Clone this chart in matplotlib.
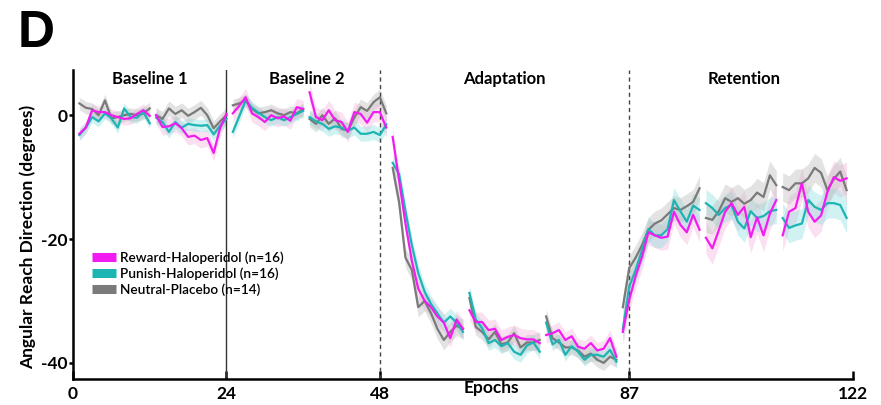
import numpy as np
import matplotlib
matplotlib.use("Agg")
import matplotlib.pyplot as plt
from matplotlib.lines import Line2D

plt.rcParams['font.family'] = ['Lato', 'DejaVu Sans']

# ---- data ----
seg_starts = [1, 13, 25, 37, 50, 62, 74, 86, 99, 111]

reward = [
    [-3.0, -2.0, 0.8, 0.5, 0.5, 0.0, -0.3, -0.6, -0.5, 0.2, 0.8, -0.1],
    [0.0, -1.9, -1.8, -1.3, -2.1, -3.5, -3.3, -4.0, -3.7, -6.1, -2.1, 0.2],
    [0.3, 1.5, 2.9, 0.3, -0.3, -1.1, 0.0, -0.5, -0.2, -0.9, 1.3, 1.0],
    [3.7, -0.3, -0.8, 0.8, -0.8, -1.1, -2.7, 0.5, 0.2, -1.2, 0.5, 0.5, -2.0],
    [-3.5, -10.5, -17.5, -23.5, -28.0, -30.0, -31.0, -32.5, -33.5, -36.0, -33.0, -34.5],
    [-31.5, -33.4, -33.4, -34.7, -34.5, -36.3, -35.8, -35.5, -36.0, -36.2, -36.2, -36.8],
    [-35.5, -35.2, -34.7, -36.3, -35.7, -37.4, -37.7, -36.8, -38.0, -37.7, -36.0, -39.0],
    [-35.0, -29.8, -26.0, -22.9, -18.9, -19.4, -19.8, -19.6, -15.6, -17.7, -18.9, -16.1, -18.5],
    [-19.8, -21.5, -18.6, -15.6, -14.2, -16.1, -14.8, -19.7, -16.5, -19.4, -15.9, -13.7],
    [-19.4, -15.6, -15.0, -11.0, -15.6, -17.2, -16.2, -12.4, -10.0, -10.6, -10.2],
]
punish = [
    [-3.2, -2.0, -0.3, -1.0, 0.3, -0.5, -2.0, 1.1, -0.3, -0.4, 0.5, -1.3],
    [-0.4, -1.1, -2.7, -1.1, -2.0, -1.4, -1.6, -1.7, -1.6, -3.1, -1.7, -0.6],
    [-2.7, -0.2, 2.4, 1.2, 0.4, -0.3, -0.8, -0.3, -0.8, -0.3, 0.2, 0.7],
    [-0.3, -1.0, -1.4, -2.2, -1.8, -2.0, -2.5, -2.0, -3.0, -3.0, -2.7, -3.2, -1.5],
    [-7.7, -9.5, -15.5, -21.0, -25.5, -28.5, -30.5, -32.0, -33.5, -32.5, -33.5, -35.0],
    [-28.7, -33.0, -34.4, -36.8, -36.3, -37.3, -36.8, -38.2, -38.7, -37.2, -36.7, -38.2],
    [-33.5, -37.0, -36.3, -38.7, -37.3, -38.2, -39.5, -38.7, -38.7, -39.0, -37.9, -39.8],
    [-34.5, -27.7, -25.0, -21.8, -18.4, -19.4, -19.4, -18.4, -13.7, -15.5, -17.2, -14.6, -15.3],
    [-14.2, -15.0, -16.1, -15.0, -14.5, -17.2, -18.3, -15.5, -16.6, -16.3, -15.5, -15.3],
    [-16.6, -18.2, -17.8, -17.5, -13.7, -14.8, -15.3, -14.2, -14.2, -14.5, -16.6],
]
neutral = [
    [1.9, 1.2, 1.0, 0.0, 2.4, -0.5, -0.3, 0.0, 0.2, 0.0, 0.3, 1.1],
    [0.0, -0.6, 1.1, 0.2, 0.8, -0.1, 0.5, 1.2, 0.0, -2.1, -1.0, 0.0],
    [1.6, 1.9, 2.4, 1.0, 0.3, 0.5, 0.8, 0.3, 0.0, 0.5, 0.3, 1.0],
    [-0.6, -1.4, 0.0, -1.4, -0.5, -2.2, -2.5, -0.4, 1.3, 0.7, 2.1, 2.9, 0.3],
    [-8.5, -14.0, -23.0, -25.0, -31.0, -30.0, -32.0, -34.5, -36.3, -35.0, -34.0, -34.5],
    [-29.5, -34.2, -35.0, -36.2, -35.0, -37.0, -36.7, -35.2, -37.5, -36.7, -36.7, -36.3],
    [-32.5, -36.0, -36.7, -37.5, -37.5, -38.0, -39.0, -38.5, -39.5, -40.0, -39.0, -39.5],
    [-31.0, -24.7, -23.0, -21.0, -18.5, -17.5, -17.0, -16.0, -15.0, -15.3, -14.7, -14.0, -11.8],
    [-16.6, -16.9, -15.5, -13.4, -14.0, -13.4, -14.3, -13.7, -12.5, -13.2, -9.7, -11.3],
    [-11.6, -12.1, -11.0, -11.0, -10.2, -8.5, -9.3, -12.1, -10.3, -9.1, -12.1],
]
# standard error per block (band half-width, degrees)
reward_sem = [1.0, 1.3, 1.4, 1.6, 1.5, 1.6, 1.3, 2.0, 2.6, 2.6]
punish_sem = [0.9, 1.0, 1.0, 1.2, 1.3, 1.2, 1.0, 2.0, 2.2, 2.4]
neutral_sem = [1.0, 1.2, 1.0, 1.3, 1.6, 1.3, 1.2, 2.0, 2.3, 2.3]

labels = ["Reward-Haloperidol (n=16)", "Punish-Haloperidol (n=16)", "Neutral-Placebo (n=14)"]
colors = ["#F21CF2", "#1DB4B4", "#7A7A7A"]
band_colors = ["#F4B6DC", "#8FE0E0", "#BDBDBD"]

phase_names = ["Baseline 1", "Baseline 2", "Adaptation", "Retention"]
phase_centers = [12, 36.5, 67.5, 105]
solid_lines = [24]
dashed_lines = [48, 87]
xticks = [0, 24, 48, 87, 122]
yticks = [0, -20, -40]

# ---- figure ----
fig = plt.figure(figsize=(8.81, 4.05), dpi=100)
ax = fig.add_axes([73 / 881, 1 - 379 / 405, 780 / 881, 309 / 405])

series = [(reward, reward_sem), (punish, punish_sem), (neutral, neutral_sem)]
# bands first
for (vals, sems), bc in zip(series, band_colors):
    for s, v, e in zip(seg_starts, vals, sems):
        v = np.asarray(v)
        x = s + np.arange(len(v))
        ax.fill_between(x, v - e, v + e, color=bc, alpha=0.42, lw=0, zorder=1)
# lines
for idx in [2, 1, 0]:
    vals, _ = series[idx]
    for s, v in zip(seg_starts, vals):
        x = s + np.arange(len(v))
        ax.plot(x, v, color=colors[idx], lw=1.6, zorder=3 + (2 - idx) * 0.1)

for xv in solid_lines:
    ax.axvline(xv, color="#333333", lw=1.0, zorder=2)
for xv in dashed_lines:
    ax.axvline(xv, color="#444444", lw=1.0, ls=(0, (3, 2.5)), zorder=2)

ax.set_xlim(0, 122)
ax.set_ylim(-42.6, 7.3)
ax.spines['top'].set_visible(False)
ax.spines['right'].set_visible(False)
ax.spines['left'].set_linewidth(1.8)
ax.spines['bottom'].set_linewidth(1.8)
ax.set_xticks(xticks)
ax.set_xticklabels([str(t) for t in xticks])
ax.set_yticks(yticks)
ax.set_yticklabels([str(t) for t in yticks])
ax.tick_params(axis='x', direction='in', length=6, width=1.8, labelsize=12.5, pad=5)
ax.tick_params(axis='y', direction='out', length=3, width=1.8, labelsize=12.5, pad=1)
for lab in ax.get_xticklabels() + ax.get_yticklabels():
    lab.set_fontweight('bold')

ax.set_ylabel("Angular Reach Direction (degrees)", fontsize=12.5, fontweight='bold')
ax.yaxis.set_label_coords(-0.047, 0.46)
ax.set_xlabel("Epochs", fontsize=12.5, fontweight='bold')
ax.xaxis.set_label_coords(0.537, -0.002)

for name, cx in zip(phase_names, phase_centers):
    ax.text(cx, 5.9, name, ha='center', va='center', fontsize=12, fontweight='bold')

handles = [Line2D([0], [0], color=c, lw=6.5, solid_capstyle='butt') for c in colors]
leg = ax.legend(handles, labels, loc='upper left', bbox_to_anchor=(0.018, 0.43),
                frameon=False, fontsize=9.8, handlelength=1.7, handletextpad=0.3,
                labelspacing=0.25, borderaxespad=0)
for t in leg.get_texts():
    t.set_fontweight('semibold')

fig.text(18 / 881, 1 - 47 / 405, "D", fontsize=37, fontweight='bold',
         family=['Liberation Sans', 'DejaVu Sans'], ha='left', va='baseline')

fig.savefig("out.png", dpi=100)
